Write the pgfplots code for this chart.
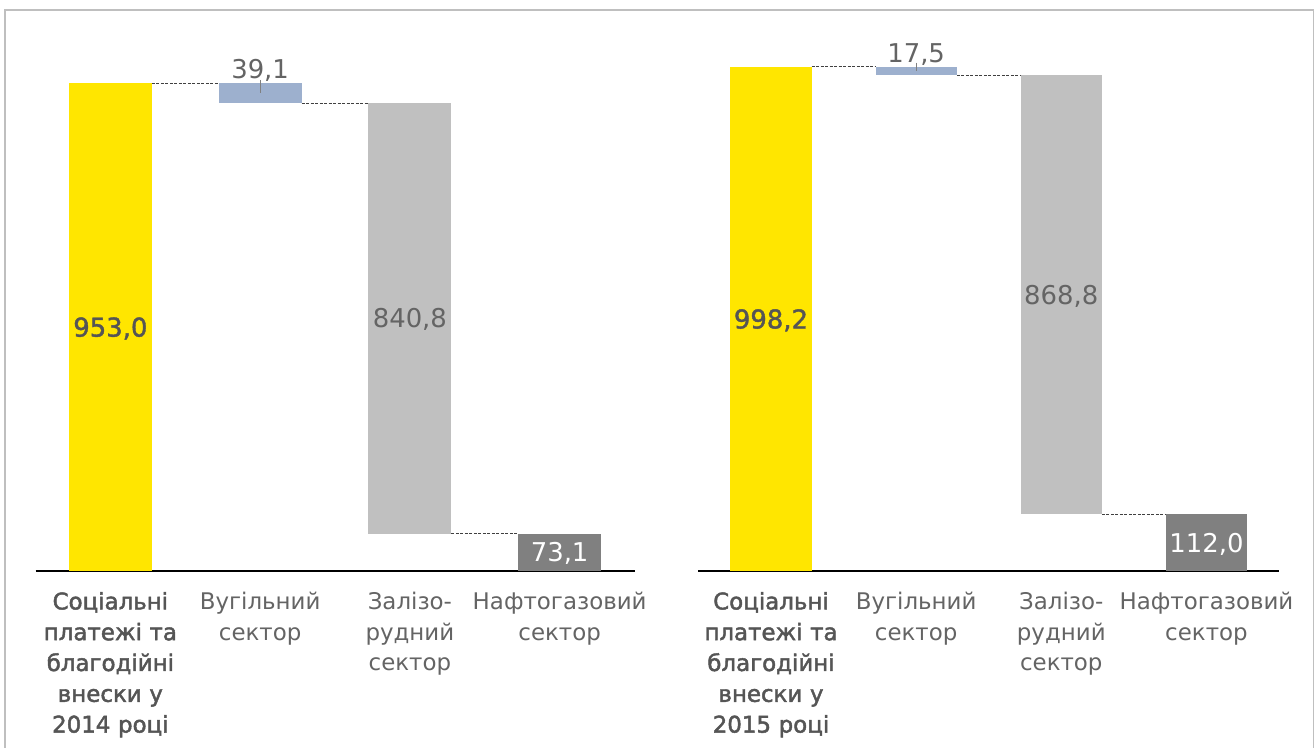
\documentclass[border=0pt]{standalone}
\usepackage{pgfplots}
\pgfplotsset{compat=1.18}
\usepackage{fontspec}
\setmainfont{DejaVu Sans}
\newfontfamily\semib[FakeBold=1.5]{DejaVu Sans}
\newfontfamily\semibb[FakeBold=2]{DejaVu Sans}
\definecolor{eyyellow}{HTML}{FFE600}
\definecolor{barblue}{HTML}{9DB0CE}
\definecolor{barlgray}{HTML}{C0C0C0}
\definecolor{bardgray}{HTML}{808080}
\definecolor{txtgray}{HTML}{646464}
\definecolor{txtdark}{HTML}{555555}
\definecolor{framegray}{HTML}{BFBFBF}
\definecolor{dashcol}{HTML}{404040}

\pgfplotsset{
 wfbase/.style={scale only axis, xmin=-0.5, xmax=3.5, ymin=0, ymax=1050, anchor=south west, clip=false},
 wfbars/.style={wfbase, ybar stacked, axis x line=bottom, axis y line=none,
   axis line style={-, black, line width=1.1bp}, xtick={0,1,2,3}, major tick length=0pt,
   xticklabel style={font=\fontsize{23}{30.9}\selectfont, text=txtgray, align=center, text width=200bp, yshift=-17.5bp}},
 wfover/.style={wfbase, hide axis},
}
\tikzset{
 conn/.style={dashcol, line width=0.9bp, dash pattern=on 3bp off 1.5bp},
 vlab/.style={font=\fontsize{26}{30}\selectfont, text=txtgray, inner sep=0pt, text depth=0pt},
 vlabb/.style={font=\semib\fontsize{26}{30}\selectfont, text=txtdark, inner sep=0pt, text depth=0pt},
}

\begin{document}
\begin{tikzpicture}[x=1bp,y=1bp]
\useasboundingbox (0,0) rectangle (1315,747);
\draw[framegray, line width=1.5bp] (5,-5) -- (5,737) -- (1313.5,737) -- (1313.5,-5);

% ---------- left panel (2014) ----------
\begin{axis}[wfbars, at={(35.5bp,176bp)}, width=599bp, height=537.7bp, bar width=0.555,
  xticklabels={{\semibb\color{txtdark}Соціальні\\платежі та\\благодійні\\внески у\\2014 році},{Вугільний\\сектор},{Залізо-\\рудний\\сектор},{Нафтогазовий\\сектор}}]
\addplot[draw=none, fill=none] coordinates {(0,0) (1,913.9) (2,73.1) (3,0)};
\addplot[draw=none, fill=eyyellow] coordinates {(0,953.0) (1,0) (2,0) (3,0)};
\addplot[draw=none, fill=barblue] coordinates {(0,0) (1,39.1) (2,0) (3,0)};
\addplot[draw=none, fill=barlgray] coordinates {(0,0) (1,0) (2,840.8) (3,0)};
\addplot[draw=none, fill=bardgray] coordinates {(0,0) (1,0) (2,0) (3,73.1)};
\end{axis}
\begin{axis}[wfover, at={(35.5bp,176bp)}, width=599bp, height=537.7bp]
\addplot[conn] coordinates {(0.2775,953.0) (0.7225,953.0)};
\addplot[conn] coordinates {(1.2775,913.9) (1.7225,913.9)};
\addplot[conn] coordinates {(2.2775,73.1) (2.7225,73.1)};
\addplot[bardgray, line width=1bp] coordinates {(1,959) (1,933.6)};
\node[vlabb] at (axis cs:0,476.5) {953,0};
\node[vlab] at (axis cs:1,980.3) {39,1};
\node[vlab] at (axis cs:2,493.5) {840,8};
\node[vlab, text=white] at (axis cs:3,36.55) {73,1};
\end{axis}

% ---------- right panel (2015) ----------
\begin{axis}[wfbars, at={(698.4bp,176bp)}, width=580.6bp, height=530.5bp, bar width=0.56,
  xticklabels={{\semibb\color{txtdark}Соціальні\\платежі та\\благодійні\\внески у\\2015 році},{Вугільний\\сектор},{Залізо-\\рудний\\сектор},{Нафтогазовий\\сектор}}]
\addplot[draw=none, fill=none] coordinates {(0,0) (1,980.7) (2,112.0) (3,0)};
\addplot[draw=none, fill=eyyellow] coordinates {(0,998.2) (1,0) (2,0) (3,0)};
\addplot[draw=none, fill=barblue] coordinates {(0,0) (1,17.5) (2,0) (3,0)};
\addplot[draw=none, fill=barlgray] coordinates {(0,0) (1,0) (2,868.7) (3,0)};
\addplot[draw=none, fill=bardgray] coordinates {(0,0) (1,0) (2,0) (3,112.0)};
\end{axis}
\begin{axis}[wfover, at={(698.4bp,176bp)}, width=580.6bp, height=530.5bp]
\addplot[conn] coordinates {(0.28,998.2) (0.72,998.2)};
\addplot[conn] coordinates {(1.28,980.7) (1.72,980.7)};
\addplot[conn] coordinates {(2.28,112.0) (2.72,112.0)};
\addplot[bardgray, line width=1bp] coordinates {(1,1006) (1,990)};
\node[vlabb] at (axis cs:0,499.1) {998,2};
\node[vlab] at (axis cs:1,1024.5) {17,5};
\node[vlab] at (axis cs:2,546.3) {868,8};
\node[vlab, text=white] at (axis cs:3,56.0) {112,0};
\end{axis}
\end{tikzpicture}
\end{document}
